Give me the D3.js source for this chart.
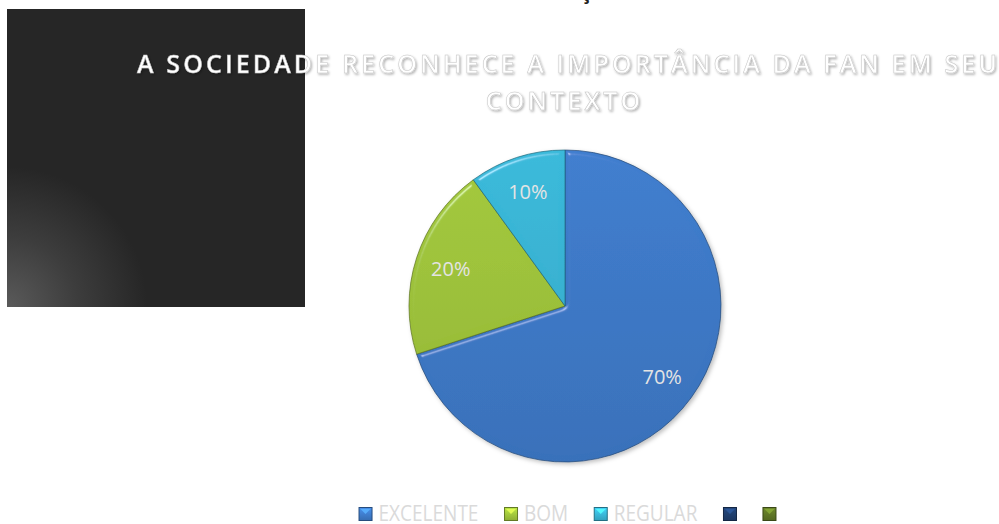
<!DOCTYPE html>
<html><head><meta charset="utf-8">
<script src="https://cdn.jsdelivr.net/npm/d3@7"></script>
<style>html,body{margin:0;padding:0;background:#fff;overflow:hidden}svg{display:block}</style>
</head><body>
<svg id="c" width="999" height="524"></svg>
<script>
const titleLines = ["A SOCIEDADE RECONHECE A IMPORTÂNCIA DA FAN EM SEU", "CONTEXTO"];
const categories = ["EXCELENTE", "BOM", "REGULAR"];
const values = [70, 20, 10];
const legendLabels = ["EXCELENTE", "BOM", "REGULAR", "", ""];
const sliceColors = ["#3d79c6", "#9dc23a", "#38b2d2"];
const legendColors = ["#3d79c6", "#9dc23a", "#38b2d2", "#1f3d6b", "#5c7325"];

const svg = d3.select("#c");
const defs = svg.append("defs");

// dark panel with glow
const rg = defs.append("radialGradient").attr("id","glow").attr("gradientUnits","userSpaceOnUse")
  .attr("cx",7).attr("cy",307).attr("r",140);
rg.append("stop").attr("offset","0").attr("stop-color","#5a5a5a");
rg.append("stop").attr("offset","0.5").attr("stop-color","#3d3d3d");
rg.append("stop").attr("offset","1").attr("stop-color","#262626");
svg.append("rect").attr("x",7).attr("y",9).attr("width",298).attr("height",298).attr("fill","url(#glow)");

// cut-off top glyph
svg.append("text").attr("x",586).attr("y",-1).attr("text-anchor","middle")
  .attr("font-family","Open Sans").attr("font-weight","bold").attr("font-size",20)
  .attr("fill","#222").text("ç");

// title
const tf = defs.append("filter").attr("id","tshadow").attr("x","-5%").attr("y","-30%").attr("width","110%").attr("height","160%");
tf.append("feDropShadow").attr("dx",1.2).attr("dy",1.5).attr("stdDeviation",1).attr("flood-color","#000").attr("flood-opacity",0.3);

const title = svg.append("g").attr("filter","url(#tshadow)")
  .attr("font-family","Open Sans").attr("font-weight",600).attr("font-size",25)
  .attr("fill","#fff").attr("stroke","#c4c4c4").attr("stroke-width",0.5);
const t1 = title.append("text").attr("x",137).attr("y",73).text(titleLines[0]);
const w1 = t1.node().getComputedTextLength();
const n1 = titleLines[0].length;
const ls = (860 - w1) / (n1 - 1);
t1.attr("letter-spacing", ls);
const t2 = title.append("text").attr("y",110).attr("letter-spacing", ls).text(titleLines[1]);
const w2 = t2.node().getComputedTextLength();
t2.attr("x", 563 - (w2 - ls) / 2);

// pie
const cx = 565, cy = 306, R = 156;
const pie = d3.pie().sort(null).value(d => d)(values);
const arc = d3.arc().innerRadius(0).outerRadius(R);
const labelArc = d3.arc().innerRadius(R*0.77).outerRadius(R*0.77);

sliceColors.forEach((c,i) => {
  const g = defs.append("linearGradient").attr("id","sg"+i).attr("gradientUnits","userSpaceOnUse")
    .attr("x1",0).attr("y1",-R).attr("x2",0).attr("y2",R);
  g.append("stop").attr("offset","0").attr("stop-color", d3.color(c).brighter(0.12));
  g.append("stop").attr("offset","1").attr("stop-color", d3.color(c).darker(0.18));
});

const bev = defs.append("filter").attr("id","bevel").attr("x","-10%").attr("y","-10%").attr("width","120%").attr("height","120%");
bev.append("feGaussianBlur").attr("in","SourceAlpha").attr("stdDeviation",2.5).attr("result","blur");
const sp = bev.append("feSpecularLighting").attr("in","blur").attr("surfaceScale",4)
  .attr("specularConstant",0.8).attr("specularExponent",60).attr("lighting-color","#ffffff").attr("result","spec");
sp.append("feDistantLight").attr("azimuth",235).attr("elevation",40);
bev.append("feComposite").attr("in","spec").attr("in2","SourceAlpha").attr("operator","in").attr("result","specIn");
bev.append("feComposite").attr("in","SourceGraphic").attr("in2","specIn").attr("operator","arithmetic")
  .attr("k1",0).attr("k2",1).attr("k3",0.45).attr("k4",0);

const ps = defs.append("filter").attr("id","pshadow").attr("x","-10%").attr("y","-10%").attr("width","120%").attr("height","120%");
ps.append("feDropShadow").attr("dx",2).attr("dy",2).attr("stdDeviation",2).attr("flood-color","#000").attr("flood-opacity",0.25);

const pg = svg.append("g").attr("transform",`translate(${cx},${cy})`).attr("filter","url(#pshadow)");
pg.selectAll("path").data(pie).join("path")
  .attr("d", arc)
  .attr("fill", (d,i) => `url(#sg${i})`)
  .attr("filter","url(#bevel)")
  .attr("stroke", (d,i) => d3.color(sliceColors[i]).darker(1.5))
  .attr("stroke-width",0.7);

const total = d3.sum(values);
svg.append("g").attr("transform",`translate(${cx},${cy})`)
  .selectAll("text").data(pie).join("text")
  .attr("transform", d => `translate(${labelArc.centroid(d)})`)
  .attr("text-anchor","middle").attr("dy","0.35em")
  .attr("font-family","Open Sans").attr("font-size",20).attr("fill","#e4e4e4")
  .text(d => Math.round(d.data / total * 100) + "%");

// legend
const lg = svg.append("g").attr("font-family","Open Sans").attr("font-size",21).attr("fill","#dadada");
const items = [];
legendLabels.forEach((lab,i) => {
  const gi = lg.append("g");
  const c = legendColors[i];
  const gid = "lgm"+i;
  const lgr = defs.append("linearGradient").attr("id",gid).attr("x1",0).attr("y1",0).attr("x2",0).attr("y2",1);
  lgr.append("stop").attr("offset","0").attr("stop-color", d3.color(c).brighter(0.5));
  lgr.append("stop").attr("offset","1").attr("stop-color", d3.color(c).darker(0.3));
  gi.append("rect").attr("x",0.5).attr("y",0.5).attr("width",13).attr("height",13)
    .attr("fill",`url(#${gid})`).attr("stroke", d3.color(c).darker(1.3)).attr("stroke-width",1);
  gi.append("path").attr("d","M2,2 L12,2 L7,7 Z").attr("fill", d3.color(c).brighter(1.1)).attr("opacity",0.85);
  if (lab) {
    const t = gi.append("text").attr("y",13.5).text(lab);
    items.push({g:gi, t, w: t.node().getComputedTextLength(), lab});
  } else items.push({g:gi, w: 0, lab});
});
// Calibri-like narrow look: compress horizontally so EXCELENTE ≈ 100px
const k = 100 / items[0].w;
items.forEach(it => { if (it.t) { it.t.attr("transform", `translate(20,0) scale(${k},1)`); it.w *= k; } });
const gap = 25.5;
const widths = items.map(it => it.lab ? 20 + it.w : 14);
const totalW = d3.sum(widths) + gap*(items.length-1);
let x = 567.5 - totalW/2;
items.forEach((it,i) => {
  it.g.attr("transform",`translate(${x},507)`);
  x += widths[i] + gap;
});
</script>
</body></html>
